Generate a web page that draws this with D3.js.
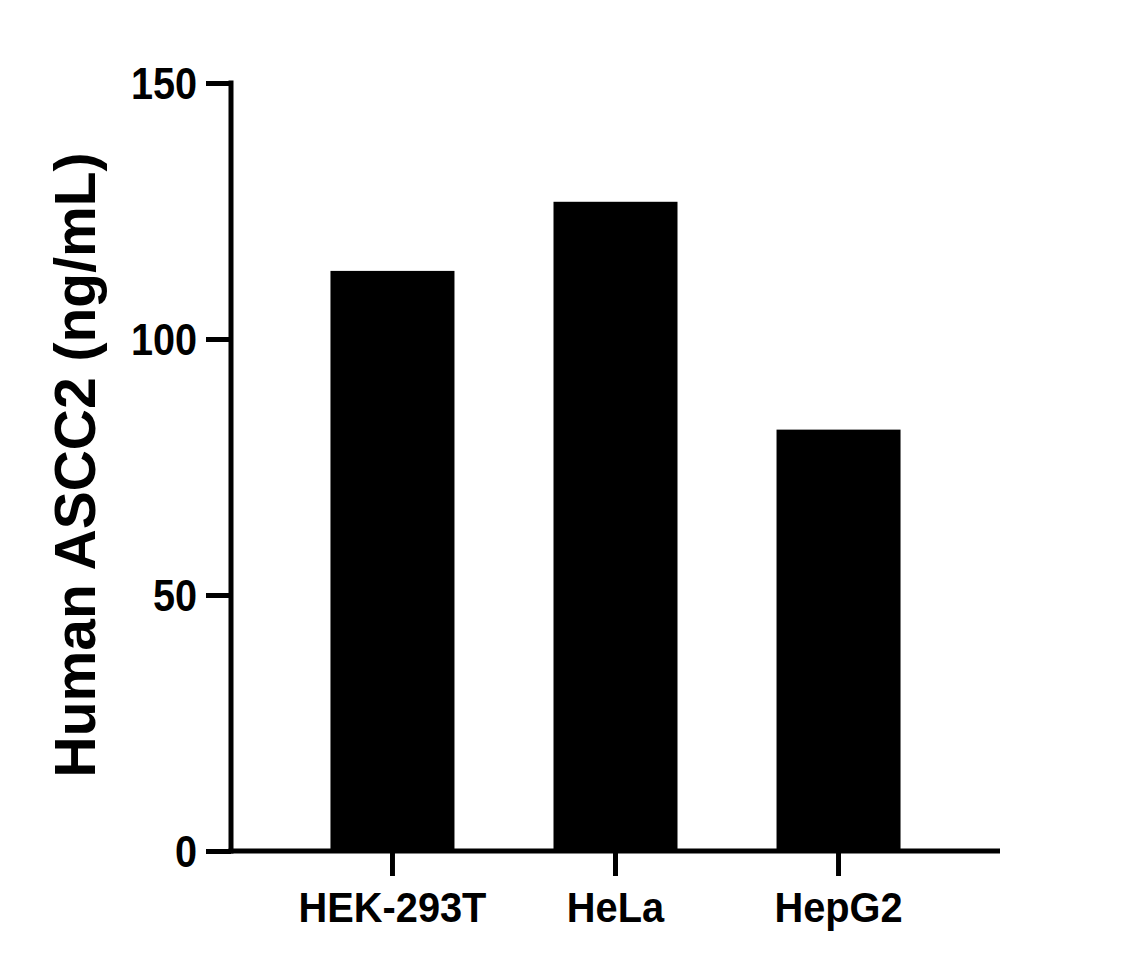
<!DOCTYPE html>
<html>
<head>
<meta charset="utf-8">
<script src="https://cdn.jsdelivr.net/npm/d3@7"></script>
<style>
  html, body { margin: 0; padding: 0; background: #fff; }
  svg text { font-family: "Liberation Sans", Arial, sans-serif; font-weight: bold; fill: #000; }
</style>
</head>
<body>
<svg id="chart" width="1137" height="968"></svg>
<script>
const categories = ["HEK-293T", "HeLa", "HepG2"];
const values = [113.3, 126.8, 82.3];
const yTicks = [0, 50, 100, 150];
const yTitle = "Human ASCC2 (ng/mL)";

const svg = d3.select("#chart");
const mLeft = 231, mRight = 1000, mTop = 83, mBottom = 851;

const x = d3.scaleBand().domain(categories).range([mLeft, mRight])
  .paddingInner(0.444).paddingOuter(0.446);
const y = d3.scaleLinear().domain([0, 150]).range([mBottom, mTop]);

svg.selectAll("rect.bar").data(values).enter().append("rect")
  .attr("class", "bar")
  .attr("x", (d, i) => x(categories[i]))
  .attr("width", x.bandwidth())
  .attr("y", d => y(d))
  .attr("height", d => y(0) - y(d))
  .attr("fill", "#000");

function condense(sel, factor) {
  sel.each(function() {
    const w = this.getComputedTextLength();
    d3.select(this).attr("textLength", w * factor).attr("lengthAdjust", "spacingAndGlyphs");
  });
}

const yAxis = svg.append("g").attr("transform", `translate(${mLeft},0)`)
  .call(d3.axisLeft(y).tickValues(yTicks).tickSize(25).tickPadding(9).tickSizeOuter(0));
yAxis.select(".domain").attr("stroke", "#000").attr("stroke-width", 5)
  .attr("d", `M0,${mBottom + 2.5}V${mTop - 2.5}`);
yAxis.selectAll(".tick line").attr("stroke", "#000").attr("stroke-width", 5);
yAxis.selectAll(".tick text").style("font-size", "44px").attr("dy", "0.36em").call(condense, 0.9);

const xAxis = svg.append("g").attr("transform", `translate(0,${mBottom})`)
  .call(d3.axisBottom(x).tickSize(25).tickPadding(15).tickSizeOuter(0));
xAxis.select(".domain").attr("stroke", "#000").attr("stroke-width", 5)
  .attr("d", `M${mLeft - 2.5},0H${mRight}`);
xAxis.selectAll(".tick line").attr("stroke", "#000").attr("stroke-width", 5);
xAxis.selectAll(".tick text").style("font-size", "43px").attr("dy", "0.71em").call(condense, 0.925);

svg.append("text")
  .attr("transform", `translate(95,465) rotate(-90)`)
  .attr("text-anchor", "middle")
  .style("font-size", "57px")
  .text(yTitle);
</script>
</body>
</html>
